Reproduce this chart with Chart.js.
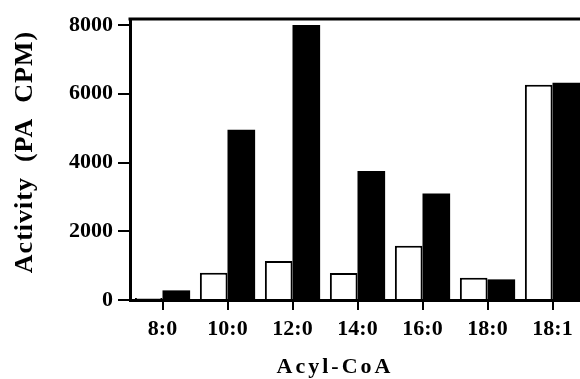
<!DOCTYPE html>
<html>
<head>
<meta charset="utf-8">
<script src="https://cdn.jsdelivr.net/npm/chart.js@4"></script>
<style>
  html, body { margin: 0; padding: 0; background: #fff; overflow: hidden; }
  #wrap { width: 580px; height: 379px; overflow: hidden; }
  #wrap div { width: 590px; height: 379px; }
</style>
</head>
<body>
<div id="wrap"><div><canvas id="chart"></canvas></div></div>
<script>
// data
const categories = ['8:0', '10:0', '12:0', '14:0', '16:0', '18:0', '18:1'];
const openBars = [60, 790, 1135, 785, 1575, 650, 6260];
const filledBars = [280, 4950, 8000, 3750, 3100, 600, 6320];
const yTicks = [0, 2000, 4000, 6000, 8000];
const yTitle = 'Activity  (PA  CPM)';
const xTitle = 'Acyl-CoA';

const FONT = "'Liberation Serif', 'Times New Roman', serif";

// axis titles and the top frame line, drawn by hand
const frame = {
  id: 'frame',
  afterDraw(chart) {
    const ctx = chart.ctx;
    const area = chart.chartArea;
    ctx.save();
    ctx.strokeStyle = '#000';
    ctx.lineWidth = 3;
    ctx.beginPath();
    ctx.moveTo(area.left - 1.5, area.top);
    ctx.lineTo(chart.width, area.top);
    ctx.stroke();

    ctx.fillStyle = '#000';
    ctx.textAlign = 'center';
    ctx.textBaseline = 'middle';

    ctx.font = 'bold 22px ' + FONT;
    ctx.letterSpacing = '3px';
    ctx.fillText(xTitle, 335, 367);

    ctx.translate(25, 152);
    ctx.rotate(-Math.PI / 2);
    ctx.font = 'bold 26px ' + FONT;
    ctx.letterSpacing = '1px';
    ctx.fillText(yTitle, 0, 0);
    ctx.restore();
  }
};

new Chart(document.getElementById('chart'), {
  type: 'bar',
  data: {
    labels: categories,
    datasets: [
      {
        data: openBars,
        backgroundColor: '#fff',
        borderColor: '#000',
        borderWidth: 2,
      },
      {
        data: filledBars,
        backgroundColor: '#000',
        borderColor: '#000',
        borderWidth: 0,
      },
    ],
  },
  options: {
    responsive: true,
    maintainAspectRatio: false,
    animation: false,
    layout: { padding: { top: 19, right: 5, left: 0, bottom: 0 } },
    plugins: {
      legend: { display: false },
      tooltip: { enabled: false },
    },
    datasets: {
      bar: { barPercentage: 1, categoryPercentage: 0.85 },
    },
    scales: {
      x: {
        afterFit(scale) { scale.height = 79; },
        grid: {
          offset: false,
          drawOnChartArea: false,
          drawTicks: true,
          tickLength: 10,
          color: '#000',
          lineWidth: 2,
        },
        border: { display: true, color: '#000', width: 3 },
        ticks: {
          color: '#000',
          padding: 6,
          maxRotation: 0,
          font: { family: FONT, size: 22, weight: 'bold' },
        },
      },
      y: {
        min: 0,
        max: 8175,
        afterFit(scale) { scale.width = 130; },
        afterBuildTicks(scale) {
          scale.ticks = yTicks.map(v => ({ value: v }));
        },
        grid: {
          drawOnChartArea: false,
          drawTicks: true,
          tickLength: 12,
          color: '#000',
          lineWidth: 2,
        },
        border: { display: true, color: '#000', width: 3 },
        ticks: {
          color: '#000',
          padding: 5,
          font: { family: FONT, size: 22, weight: 'bold' },
          callback: v => String(v),
        },
      },
    },
  },
  plugins: [frame],
});
</script>
</body>
</html>
